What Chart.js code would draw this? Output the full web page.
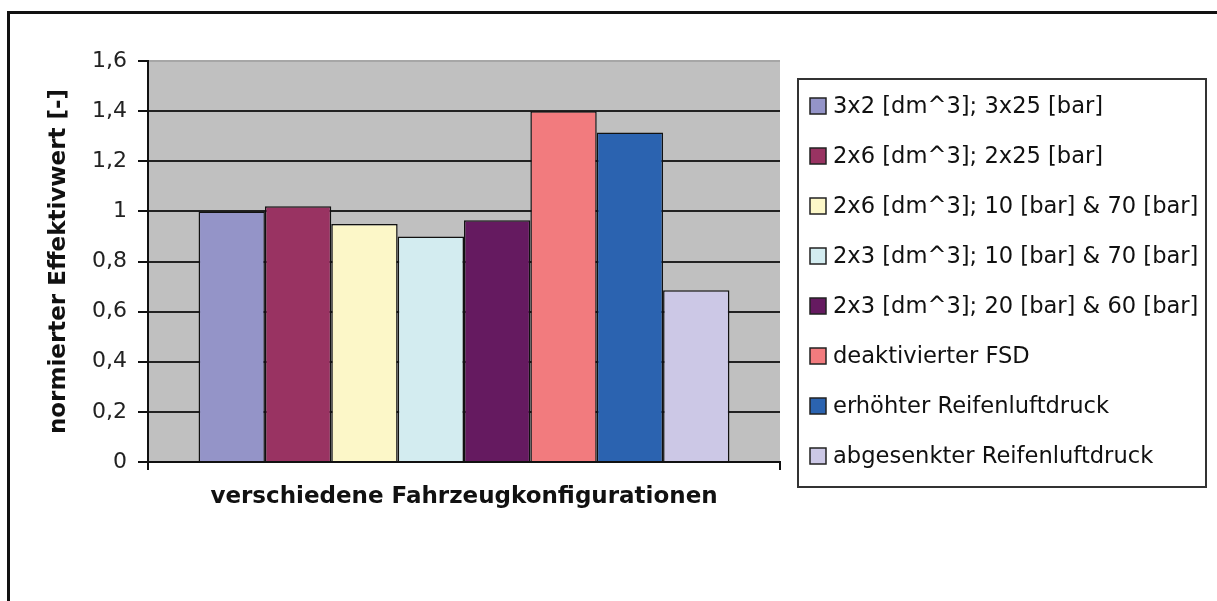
<!DOCTYPE html>
<html>
<head>
<meta charset="utf-8">
<script src="https://cdn.jsdelivr.net/npm/chart.js@4/dist/chart.umd.min.js"></script>
<style>
  html, body { margin: 0; padding: 0; background: #fff; overflow: hidden; }
  #frame {
    position: absolute; left: 7px; top: 11px; width: 1300px; height: 700px;
    border-left: 3px solid #111; border-top: 3px solid #111;
  }
  #chart { position: absolute; left: 0; top: 0; }
</style>
</head>
<body>
<div id="frame"></div>
<canvas id="chart" width="1217" height="601"></canvas>
<script>
// one (unnamed) category, one bar per configuration
const categories = [''];
const seriesNames = [
  '3x2 [dm^3]; 3x25 [bar]',
  '2x6 [dm^3]; 2x25 [bar]',
  '2x6 [dm^3]; 10 [bar] & 70 [bar]',
  '2x3 [dm^3]; 10 [bar] & 70 [bar]',
  '2x3 [dm^3]; 20 [bar] & 60 [bar]',
  'deaktivierter FSD',
  'erhöhter Reifenluftdruck',
  'abgesenkter Reifenluftdruck'
];
const seriesValues = [1.0, 1.02, 0.95, 0.90, 0.965, 1.40, 1.315, 0.685];
const seriesColors = ['#9494c8', '#993362', '#fcf7c8', '#d3ecf0', '#651a60', '#f27b7e', '#2b63b0', '#ccc8e6'];
const yTickLabels = ['0', '0,2', '0,4', '0,6', '0,8', '1', '1,2', '1,4', '1,6'];

const FONT = '"DejaVu Sans", Verdana, sans-serif';

// grey plot area like the old Excel chart
const plotBackground = {
  id: 'plotBackground',
  beforeDraw(chart) {
    const { ctx, chartArea: a } = chart;
    ctx.save();
    ctx.fillStyle = '#c0c0c0';
    ctx.fillRect(a.left, a.top, a.right - a.left, a.bottom - a.top);
    ctx.restore();
  }
};

// framed legend to the right of the plot
const boxLegend = {
  id: 'boxLegend',
  afterDraw(chart) {
    const ctx = chart.ctx;
    const x = 798, y = 79, w = 408, h = 408;
    ctx.save();
    ctx.fillStyle = '#fff';
    ctx.fillRect(x, y, w, h);
    ctx.strokeStyle = '#333';
    ctx.lineWidth = 2;
    ctx.strokeRect(x, y, w, h);
    ctx.font = '22.6px ' + FONT;
    ctx.textBaseline = 'middle';
    chart.data.datasets.forEach((ds, i) => {
      const cy = y + 27 + i * 50;
      ctx.fillStyle = ds.backgroundColor;
      ctx.fillRect(810, cy - 8, 16, 16);
      ctx.strokeStyle = '#222';
      ctx.lineWidth = 1.5;
      ctx.strokeRect(810, cy - 8, 16, 16);
      ctx.fillStyle = '#111';
      ctx.fillText(ds.label, 833, cy + 1);
    });
    ctx.restore();
  }
};

new Chart(document.getElementById('chart'), {
  type: 'bar',
  data: {
    labels: categories,
    datasets: seriesNames.map((name, i) => ({
      label: name,
      data: [seriesValues[i]],
      backgroundColor: seriesColors[i],
      borderColor: '#111',
      borderWidth: 1.5,
      categoryPercentage: 0.84,
      barPercentage: 1.0
    }))
  },
  options: {
    responsive: false,
    animation: false,
    devicePixelRatio: 1,
    layout: { padding: { top: 61, right: 437, bottom: 0, left: 0 } },
    plugins: {
      legend: { display: false },
      tooltip: { enabled: false }
    },
    scales: {
      x: {
        grid: {
          display: true,
          drawOnChartArea: false,
          offset: true,
          tickLength: 8,
          color: '#111',
          lineWidth: 2
        },
        border: { display: true, color: '#111', width: 2 },
        ticks: { display: true },
        title: {
          display: true,
          text: 'verschiedene Fahrzeugkonfigurationen',
          color: '#111',
          font: { family: FONT, size: 23, weight: 'bold' },
          padding: { top: 0, bottom: 90 }
        },
        afterFit(scale) { scale.height = 139; }
      },
      y: {
        min: 0,
        max: 1.6,
        ticks: {
          stepSize: 0.2,
          padding: 11,
          color: '#222',
          font: { family: FONT, size: 22 },
          callback: (v, i) => yTickLabels[i]
        },
        grid: {
          color: ctx => ctx.index === yTickLabels.length - 1 ? '#a6a6a6' : '#222',
          lineWidth: 2,
          tickLength: 10,
          tickColor: '#111',
          tickWidth: 2
        },
        border: { display: true, color: '#111', width: 2 },
        title: {
          display: true,
          text: 'normierter Effektivwert [-]',
          color: '#111',
          font: { family: FONT, size: 23, weight: 'bold' },
          padding: { top: 45, bottom: 0 }
        },
        afterFit(scale) { scale.width = 148; }
      }
    }
  },
  plugins: [plotBackground, boxLegend]
});
</script>
</body>
</html>
